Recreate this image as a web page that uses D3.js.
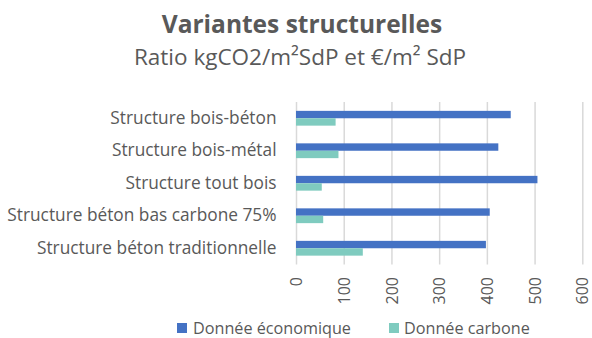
<!DOCTYPE html>
<html>
<head>
<meta charset="utf-8">
<script src="https://cdn.jsdelivr.net/npm/d3@7"></script>
<style>
  html, body { margin: 0; padding: 0; background: #fff; }
  svg { display: block; }
  text { font-family: "Open Sans", Lato, sans-serif; fill: #595959; }
</style>
</head>
<body>
<svg id="chart" width="592" height="338"></svg>
<script>
// Structural variants, economic (€/m² SdP) and carbon (kgCO2/m² SdP) ratios
const categories = [
  "Structure bois-béton",
  "Structure bois-métal",
  "Structure tout bois",
  "Structure béton bas carbone 75%",
  "Structure béton traditionnelle"
];
const economicValues = [450, 424, 506, 406, 398];
const carbonValues = [83, 89, 54, 57, 140];
const seriesNames = ["Donnée économique", "Donnée carbone"];
const seriesColors = ["#4472C4", "#7FCBBF"];
const xTicks = [0, 100, 200, 300, 400, 500, 600];

const svg = d3.select("#chart");
const fontFamily = "'Open Sans', Lato, sans-serif";

const plot = { left: 296, right: 582.3, top: 102, bottom: 264.5 };

const x = d3.scaleLinear().domain([0, 600]).range([plot.left, plot.right]);
const y = d3.scaleBand().domain(categories).range([plot.top, plot.bottom]).paddingInner(0.545).paddingOuter(0.2725);
const ySeries = d3.scaleBand().domain(seriesNames).range([0, y.bandwidth()]);

// Title and subtitle
svg.append("text")
  .attr("x", 302).attr("y", 33)
  .attr("text-anchor", "middle")
  .attr("font-size", 24.5).attr("font-weight", "bold")
  .text("Variantes structurelles");
svg.append("text")
  .attr("x", 300).attr("y", 65)
  .attr("text-anchor", "middle")
  .attr("font-size", 22.5)
  .text("Ratio kgCO2/m²SdP et €/m² SdP");

// Vertical gridlines and rotated tick labels
const xAxis = d3.axisBottom(x).tickValues(xTicks).tickSize(-(plot.bottom - plot.top)).tickFormat(d3.format("d"));
const gx = svg.append("g")
  .attr("transform", `translate(0,${plot.bottom})`)
  .call(xAxis);
gx.select(".domain").remove();
gx.selectAll(".tick line").attr("stroke", "#d9d9d9").attr("stroke-width", 1.5);
gx.selectAll(".tick text")
  .attr("font-size", 16)
  .attr("fill", "#595959")
  .attr("font-family", fontFamily)
  .attr("transform", "rotate(-90)")
  .attr("text-anchor", "end")
  .attr("x", -12.5)
  .attr("y", 0)
  .attr("dy", "0.35em");

// Category labels
const gy = svg.append("g")
  .attr("transform", `translate(${plot.left},0)`)
  .call(d3.axisLeft(y).tickSize(0).tickPadding(19.5));
gy.select(".domain").remove();
gy.selectAll(".tick text")
  .attr("font-size", 17.3)
  .attr("fill", "#595959")
  .attr("font-family", fontFamily);

// Bars
const rows = categories.map((c, i) => ({ cat: c, vals: [economicValues[i], carbonValues[i]] }));
const groups = svg.append("g").selectAll("g")
  .data(rows).join("g")
  .attr("transform", d => `translate(0,${y(d.cat)})`);
groups.selectAll("rect")
  .data(d => d.vals.map((v, j) => ({ v, name: seriesNames[j], color: seriesColors[j] })))
  .join("rect")
  .attr("x", x(0))
  .attr("y", d => ySeries(d.name))
  .attr("width", d => x(d.v) - x(0))
  .attr("height", ySeries.bandwidth())
  .attr("fill", d => d.color);

// Legend
const legendPos = [{ sq: 177, tx: 193 }, { sq: 389, tx: 404 }];
const legend = svg.append("g").selectAll("g")
  .data(seriesNames).join("g");
legend.append("rect")
  .attr("x", (d, i) => legendPos[i].sq)
  .attr("y", 323)
  .attr("width", 10).attr("height", 10)
  .attr("fill", (d, i) => seriesColors[i]);
legend.append("text")
  .attr("x", (d, i) => legendPos[i].tx)
  .attr("y", 334)
  .attr("font-size", 16.2)
  .text(d => d);
</script>
</body>
</html>
